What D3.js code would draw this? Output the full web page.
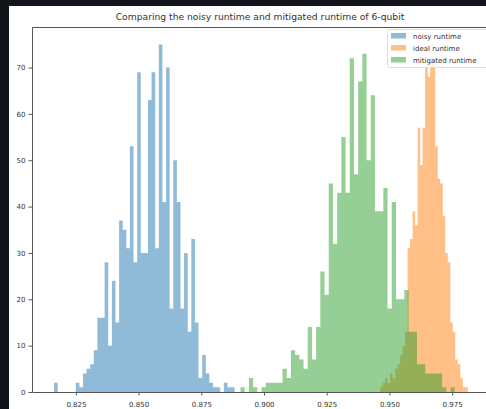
<!DOCTYPE html>
<html>
<head>
<meta charset="utf-8">
<script src="https://cdn.jsdelivr.net/npm/d3@7"></script>
<style>
  html, body { margin: 0; padding: 0; background: #111418; }
  svg { display: block; }
  text { font-family: "DejaVu Sans", sans-serif; fill: #333; }
</style>
</head>
<body>
<div id="chart"></div>
<script>
const width = 486;
const height = 409;

// histogram counts per bin
const noisyStart = 0.8163;
const noisyStep = 0.00144;
const noisyCounts = [2, 0, 0, 0, 0, 0, 2, 1, 4, 5, 6, 9, 16, 16, 28, 10, 24, 15, 37, 35,
  31, 53, 28, 69, 30, 30, 63, 69, 31, 75, 41, 70, 18, 50, 41, 18, 30, 13, 33, 15,
  3, 8, 4, 2, 1, 1, 0, 2, 1, 1];

const idealStart = 0.94625;
const idealStep = 0.001;
const idealCounts = [1, 2, 3, 2, 4, 3, 5, 6, 8, 10, 13, 31, 33, 39, 36, 57, 49, 57, 70, 68,
  72, 72, 53, 46, 45, 38, 30, 28, 15, 13, 7, 6, 3, 1, 1, 0];

const mitigatedStart = 0.89063;
const mitigatedStep = 0.001675;
const mitigatedCounts = [1, 0, 3, 1, 0, 1, 2, 2, 2, 2, 5, 3, 9, 8, 7, 5, 14, 7, 14, 26,
  21, 45, 32, 43, 55, 43, 72, 47, 67, 73, 50, 64, 39, 39, 44, 18, 41, 20, 20, 22,
  13, 13, 6, 6, 4, 4, 4, 4, 1, 0, 1];

const xTicks = [0.825, 0.850, 0.875, 0.900, 0.925, 0.950, 0.975];
const yTicks = [0, 10, 20, 30, 40, 50, 60, 70];

const seriesNames = ["noisy runtime", "ideal runtime", "mitigated runtime"];
const colors = ["#1f77b4", "#ff7f0e", "#2ca02c"];

const series = [
  {start: noisyStart, step: noisyStep, counts: noisyCounts},
  {start: idealStart, step: idealStep, counts: idealCounts},
  {start: mitigatedStart, step: mitigatedStep, counts: mitigatedCounts}
];

const svg = d3.select("#chart")
  .append("svg")
  .attr("width", width)
  .attr("height", height);

// white figure area on dark page
svg.append("rect")
  .attr("x", 9)
  .attr("y", 6)
  .attr("width", width - 9)
  .attr("height", height - 6)
  .attr("fill", "#fff");

const xScale = d3.scaleLinear()
  .domain([0.8075, 0.9893])
  .range([32, 488]);

const yScale = d3.scaleLinear()
  .domain([0, 78.75])
  .range([392, 27]);

// one step-shaped path per histogram so neighbouring bars have no seams
const area = d3.area()
  .curve(d3.curveStepAfter)
  .x(d => xScale(d.x))
  .y0(yScale(0))
  .y1(d => yScale(d.n));

series.forEach(function(s, k) {
  const pts = s.counts.map((c, i) => ({x: s.start + i * s.step, n: c}));
  pts.push({x: s.start + s.counts.length * s.step, n: 0});
  svg.append("path")
    .datum(pts)
    .attr("d", area)
    .style("fill", colors[k])
    .style("opacity", 0.5);
});

/* axes */
const xAxis = d3.axisBottom(xScale)
  .tickValues(xTicks)
  .tickFormat(d3.format(".3f"))
  .tickSize(3.5);
const yAxis = d3.axisLeft(yScale)
  .tickValues(yTicks)
  .tickSize(3.5);

const gx = svg.append("g")
  .attr("transform", "translate(0," + yScale(0) + ")")
  .call(xAxis);
const gy = svg.append("g")
  .attr("transform", "translate(" + xScale.range()[0] + ",0)")
  .call(yAxis);

[gx, gy].forEach(function(g) {
  g.select(".domain").remove();
  g.selectAll("line").attr("stroke", "#555");
  g.selectAll("text")
    .style("font-family", "DejaVu Sans, sans-serif")
    .style("font-size", "7px")
    .attr("fill", "#444");
});
gx.selectAll("text").attr("dy", "1.2em");

// spines
svg.append("path")
  .attr("d", "M32.5,27.5V392.5H488.5V27.5Z")
  .attr("fill", "none")
  .attr("stroke", "#555")
  .attr("stroke-width", 1);

// title
svg.append("text")
  .attr("x", (xScale.range()[0] + xScale.range()[1]) / 2)
  .attr("y", 20)
  .attr("text-anchor", "middle")
  .style("font-size", "9.2px")
  .attr("fill", "#333")
  .text("Comparing the noisy runtime and mitigated runtime of 6-qubit");

// legend
const legend = svg.append("g");
legend.append("rect")
  .attr("x", 387.5)
  .attr("y", 29.5)
  .attr("width", 104)
  .attr("height", 38)
  .attr("rx", 2)
  .attr("fill", "#fff")
  .attr("fill-opacity", 0.8)
  .attr("stroke", "#ddd");

seriesNames.forEach(function(name, k) {
  const yRow = 36 + k * 12;
  legend.append("rect")
    .attr("x", 391)
    .attr("y", yRow - 3)
    .attr("width", 15)
    .attr("height", 5.5)
    .style("fill", colors[k])
    .style("opacity", 0.5);
  legend.append("text")
    .attr("x", 413)
    .attr("y", yRow + 2.5)
    .style("font-size", "7px")
    .attr("fill", "#444")
    .text(name);
});
</script>
</body>
</html>
